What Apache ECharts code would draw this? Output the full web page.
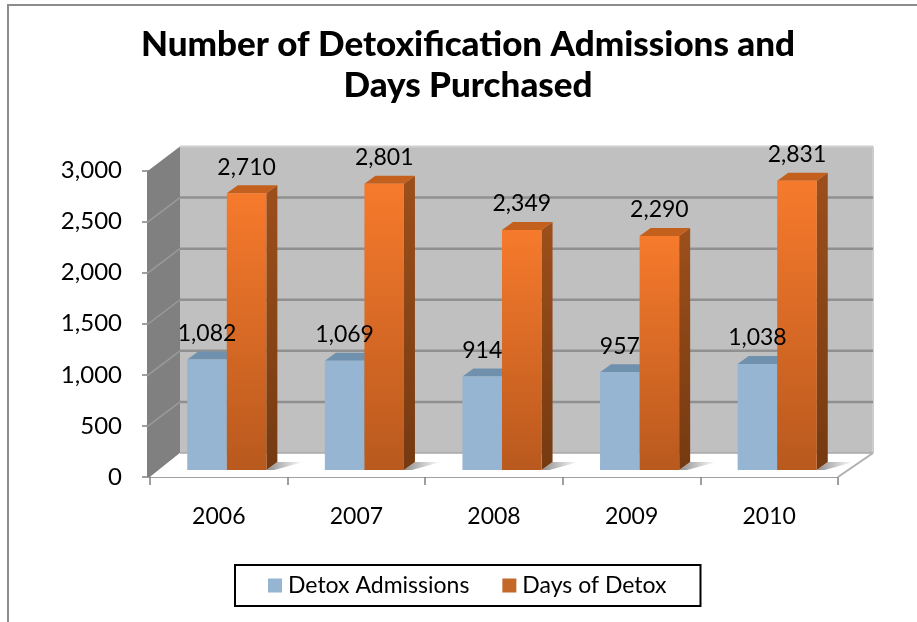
<!DOCTYPE html>
<html>
<head>
<meta charset="utf-8">
<style>
  html, body { margin: 0; padding: 0; background: #fff; }
  #chart { width: 917px; height: 622px; }
</style>
<script src="https://cdn.jsdelivr.net/npm/echarts@6/dist/echarts.min.js"></script>
</head>
<body>
<div id="chart"></div>
<script>
const years = ["2006", "2007", "2008", "2009", "2010"];
const admissions = [1082, 1069, 914, 957, 1038];
const daysOfDetox = [2710, 2801, 2349, 2290, 2831];
const yTicks = [0, 500, 1000, 1500, 2000, 2500, 3000];

const FONT = "Lato";
// fake 3d: how far the back wall and the bars sit behind the front plane
const WALL_DX = 30, WALL_DX_R = 35, WALL_DY = -24;
const BAR_DX = 8, BAR_DY = -7, BAR_DEPTH_X = 11, BAR_DEPTH_Y = -8;

const fmt = (v) => v.toLocaleString("en-US");
const vGrad = (a, b) => ({
  type: "linear", x: 0, y: 0, x2: 0, y2: 1,
  colorStops: [{ offset: 0, color: a }, { offset: 1, color: b }],
});

function poly(points, fill, z2) {
  return { type: "polygon", shape: { points }, style: { fill }, z2: z2 || 0, silent: true };
}
function seg(x1, y1, x2, y2, stroke, width, z2) {
  return { type: "line", shape: { x1, y1, x2, y2 }, style: { stroke, lineWidth: width }, z2: z2 || 1, silent: true };
}

function renderWalls(params, api) {
  const g = params.coordSys;
  const xl = g.x, xr = g.x + g.width;
  const wl = xl + WALL_DX, wr = xr + WALL_DX_R;
  const y0 = api.coord([0, 0])[1], yTop = api.coord([0, 3000])[1];
  const kids = [
    poly([[wl, yTop + WALL_DY], [wr, yTop + WALL_DY], [wr, y0 + WALL_DY], [wl, y0 + WALL_DY]], "#c0c0c0"),
    poly([[xl - 3, yTop + 1], [wl, yTop + WALL_DY], [wl, y0 + WALL_DY], [xl, y0], [xl - 3, y0]], "#808080"),
    poly([[xl, y0], [wl, y0 + WALL_DY], [wr, y0 + WALL_DY], [xr, y0]], "#ffffff"),
    seg(wl, yTop + WALL_DY, wr, yTop + WALL_DY, "#cfcfcf", 2),
    seg(wr, yTop + WALL_DY, wr, y0 + WALL_DY, "#cccccc", 2),
    seg(wl, y0 + WALL_DY, wr, y0 + WALL_DY, "#a8a8a8", 1.5),
    seg(xr, y0, wr, y0 + WALL_DY, "#b0b0b0", 2),
  ];
  yTicks.forEach((v) => {
    if (v === 0 || v === 3000) return;
    const y = api.coord([0, v])[1];
    kids.push(seg(wl, y + WALL_DY, wr, y + WALL_DY, "#909090", 2.5));
    kids.push(seg(xl - 3, y + 1, wl, y + WALL_DY, "#9a9a9a", 1.5));
  });
  return { type: "group", children: kids };
}

function makeBar(sideIndex, colors) {
  return function (params, api) {
    const idx = api.value(0), val = api.value(1);
    const band = params.coordSys.width / years.length;
    const w = band * 0.2875;
    const cx = api.coord([idx, 0])[0] + BAR_DX;
    const xa = cx + (sideIndex === 0 ? -w : 0), xb = xa + w;
    const yb = api.coord([idx, 0])[1] + BAR_DY;
    const yt = api.coord([idx, val])[1] + BAR_DY;
    const dx = BAR_DEPTH_X, dy = BAR_DEPTH_Y;
    const z = 2 + sideIndex * 3;
    return {
      type: "group",
      children: [
        // soft shadow on the floor
        poly([[xb, yb], [xb + dx, yb + dy], [xb + dx + 26, yb + dy], [xb + 8, yb]], {
          type: "linear", x: 0, y: 0, x2: 1, y2: 0,
          colorStops: [{ offset: 0, color: "#8f8f8f" }, { offset: 1, color: "#ffffff" }],
        }, 1),
        poly([[xb, yt], [xb + dx, yt + dy], [xb + dx, yb + dy], [xb, yb]], colors.side, z),
        poly([[xa, yt], [xa + dx, yt + dy], [xb + dx, yt + dy], [xb, yt]], colors.top, z),
        poly([[xa, yt], [xb, yt], [xb, yb], [xa, yb]], colors.front, z + 1),
        {
          type: "text", z2: 100, silent: true,
          style: {
            x: (xa + xb) / 2, y: yt + dy - 18,
            text: fmt(val), fill: "#000", font: "23px " + FONT,
            align: "center", verticalAlign: "middle",
          },
        },
      ],
    };
  };
}

const blueColors = { front: "#95b5d3", top: "#7091ad", side: "#7091ad" };
const orangeColors = {
  front: vGrad("#f67a2c", "#b9591e"),
  top: "#c4601e",
  side: vGrad("#9c4f1b", "#753a11"),
};

const chart = echarts.init(document.getElementById("chart"), null, { renderer: "canvas" });
chart.setOption({
  animation: false,
  backgroundColor: "#ffffff",
  title: {
    text: "Number of Detoxification Admissions and\nDays Purchased",
    left: 463, top: 19, textAlign: "center",
    textStyle: { fontFamily: FONT, fontWeight: 900, fontSize: 35, lineHeight: 41, color: "#000" },
  },
  grid: { left: 150, right: 79, top: 170.5, bottom: 145 },
  xAxis: {
    type: "category", data: years,
    axisLine: { lineStyle: { color: "#a0a0a0", width: 2 } },
    axisTick: { show: true, length: 8, alignWithLabel: false, lineStyle: { color: "#808080", width: 1.5 } },
    axisLabel: { color: "#000", fontFamily: FONT, fontSize: 23, margin: 28 },
  },
  yAxis: {
    type: "value", min: 0, max: 3000, interval: 500,
    splitLine: { show: false },
    axisLine: { show: false },
    axisTick: { show: true, length: 8, lineStyle: { color: "#808080", width: 1.5 } },
    axisLabel: { color: "#000", fontFamily: FONT, fontSize: 24, margin: 28, formatter: (v) => fmt(v) },
  },
  legend: {
    left: 235, top: 565,
    padding: [9, 34, 9, 33],
    itemGap: 33, itemWidth: 14, itemHeight: 14, icon: "rect",
    borderColor: "#000", borderWidth: 2, backgroundColor: "#fff",
    textStyle: { color: "#000", fontFamily: FONT, fontSize: 23, padding: [0, 0, 0, 1] },
    data: ["Detox Admissions", "Days of Detox"],
  },
  graphic: [
    { type: "polyline", silent: true, shape: { points: [[8, 622], [8, 5], [917, 5]] }, style: { stroke: "#8c8c8c", lineWidth: 2, fill: "none" } },
  ],
  series: [
    { type: "custom", name: "walls", silent: true, z: 1, renderItem: renderWalls, data: [[0, 0]] },
    {
      type: "custom", name: "Detox Admissions", z: 3, itemStyle: { color: "#95b5d3" },
      renderItem: makeBar(0, blueColors),
      data: years.map((y, i) => [i, admissions[i]]),
    },
    {
      type: "custom", name: "Days of Detox", z: 3, itemStyle: { color: "#c4682a" },
      renderItem: makeBar(1, orangeColors),
      data: years.map((y, i) => [i, daysOfDetox[i]]),
    },
  ],
});
</script>
</body>
</html>
